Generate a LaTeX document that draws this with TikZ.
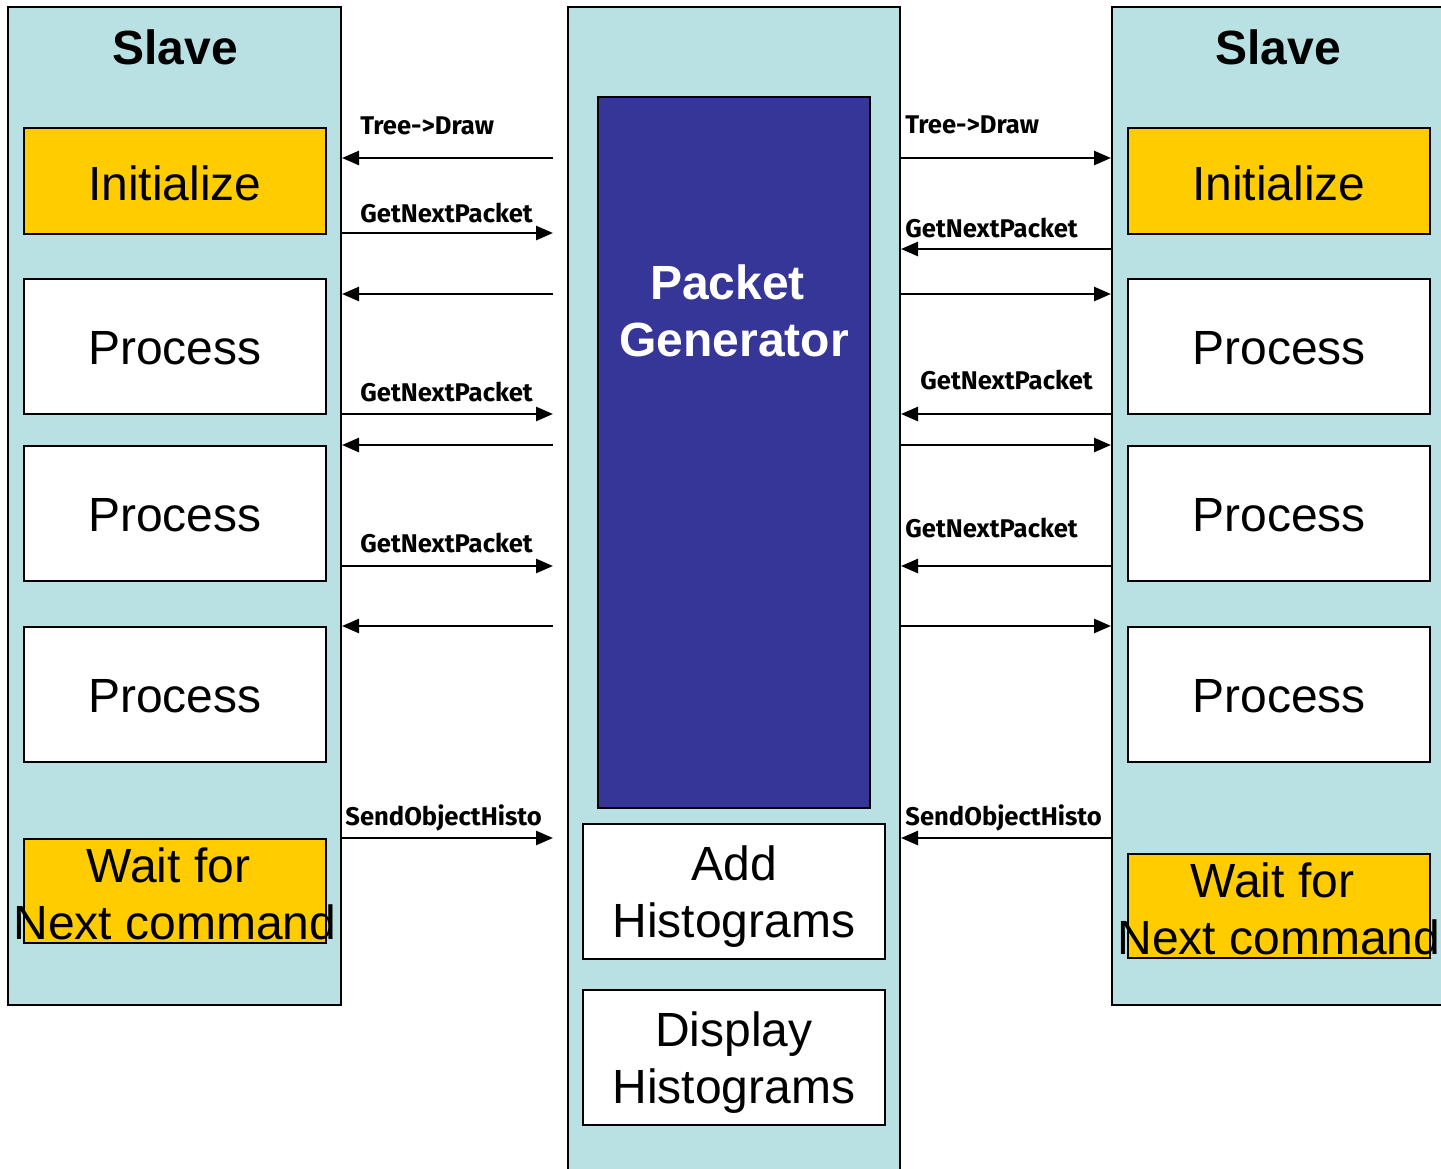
\documentclass[tikz,border=0pt]{standalone}
\usepackage{fontspec}
\setmainfont{Liberation Sans}
\newfontfamily\labfont{Fira Sans}
\usetikzlibrary{arrows.meta}
\definecolor{panelblue}{RGB}{185,224,227}
\definecolor{boxyellow}{RGB}{255,204,0}
\definecolor{pgblue}{RGB}{54,54,153}
\newcommand\trailsp{\rule{6.6pt}{0pt}}
\begin{document}
\begin{tikzpicture}[x=0.5pt,y=-0.5pt,
  panel/.style={draw=black, line width=1pt, fill=panelblue, inner sep=0pt, minimum width=166.5pt},
  stepbox/.style={draw=black, line width=0.9pt, inner sep=0pt, minimum width=151pt},
  yellowbox/.style={stepbox, fill=boxyellow},
  whitebox/.style={stepbox, fill=white},
  big/.style={font=\fontsize{24}{28.5}\selectfont, inner sep=0pt, align=center},
  bigb/.style={font=\fontsize{24}{28.5}\selectfont\bfseries, inner sep=0pt, align=center},
  lab/.style={font=\labfont\bfseries\fontsize{12.8}{15}\selectfont, inner sep=0pt, anchor=base west},
  arr/.style={line width=1.3pt, -{Triangle[length=8.5pt,width=7pt]}}]
\useasboundingbox (0,0) rectangle (1441,1168);
\clip (0,0) rectangle (1441,1168);
% panels
\node[panel, minimum height=499pt] (LP) at (174.5,506) {};
\node[panel, minimum height=586.5pt, minimum width=166pt] (CP) at (734,593.5) {};
\node[panel, minimum height=499pt] (RP) at (1278.5,506) {};
% titles
\node[bigb] (LT) at (175,47) {Slave};
\node[bigb] (RT) at (1278,47) {Slave};
% left boxes
\node[yellowbox, minimum height=53pt] (LI) at (175,181) {};
\node[big] at ([yshift=-1pt]LI.center) {Initialize};
\node[whitebox, minimum height=67.5pt] (LP1) at (175,346.5) {};
\node[big] at ([yshift=-1pt]LP1.center) {Process};
\node[whitebox, minimum height=67.5pt] (LP2) at (175,513.5) {};
\node[big] at ([yshift=-1pt]LP2.center) {Process};
\node[whitebox, minimum height=67.5pt] (LP3) at (175,694.5) {};
\node[big] at ([yshift=-1pt]LP3.center) {Process};
\node[yellowbox, minimum height=52pt] (LW) at (175,891) {};
\node[big] (LWT) at (175,894) {Wait for\trailsp\\Next command};
% right boxes
\node[yellowbox, minimum height=53pt] (RI) at (1279,181) {};
\node[big] at ([yshift=-1pt]RI.center) {Initialize};
\node[whitebox, minimum height=67.5pt] (RP1) at (1279,346.5) {};
\node[big] at ([yshift=-1pt]RP1.center) {Process};
\node[whitebox, minimum height=67.5pt] (RP2) at (1279,513.5) {};
\node[big] at ([yshift=-1pt]RP2.center) {Process};
\node[whitebox, minimum height=67.5pt] (RP3) at (1279,694.5) {};
\node[big] at ([yshift=-1pt]RP3.center) {Process};
\node[yellowbox, minimum height=52pt] (RW) at (1279,906) {};
\node[big] (RWT) at (1279,909) {Wait for\trailsp\\Next command};
% center
\node[draw=black, line width=0.9pt, fill=pgblue, inner sep=0pt, minimum width=136pt, minimum height=355.5pt] (PG) at (734,452.5) {};
\node[bigb, text=white] (PGT) at (734,311) {Packet\trailsp\\Generator};
\node[whitebox, minimum height=67.5pt] (AH) at (734,891.5) {};
\node[big] (AHT) at (734,897) {Add\\Histograms};
\node[whitebox, minimum height=67.5pt] (DH) at (734,1057.5) {};
\node[big] (DHT) at (734,1063) {Display\\Histograms};
% left gap coordinates
\coordinate (a1) at (553,158);
\coordinate (a2) at (553,233);
\coordinate (a3) at (553,294);
\coordinate (a4) at (553,414);
\coordinate (a5) at (553,445);
\coordinate (a6) at (553,566);
\coordinate (a7) at (553,626);
\coordinate (a8) at (553,838);
\draw[arr] (a1) -- (a1 -| LP.east);
\draw[arr] (a2 -| LP.east) -- (a2);
\draw[arr] (a3) -- (a3 -| LP.east);
\draw[arr] (a4 -| LP.east) -- (a4);
\draw[arr] (a5) -- (a5 -| LP.east);
\draw[arr] (a6 -| LP.east) -- (a6);
\draw[arr] (a7) -- (a7 -| LP.east);
\draw[arr] (a8 -| LP.east) -- (a8);
% right side
\coordinate (b1) at (1000,158);
\coordinate (b2) at (1000,249);
\coordinate (b3) at (1000,294);
\coordinate (b4) at (1000,414);
\coordinate (b5) at (1000,445);
\coordinate (b6) at (1000,566);
\coordinate (b7) at (1000,626);
\coordinate (b8) at (1000,838);
\draw[arr] (b1 -| CP.east) -- (b1 -| RP.west);
\draw[arr] (b2 -| RP.west) -- (b2 -| CP.east);
\draw[arr] (b3 -| CP.east) -- (b3 -| RP.west);
\draw[arr] (b4 -| RP.west) -- (b4 -| CP.east);
\draw[arr] (b5 -| CP.east) -- (b5 -| RP.west);
\draw[arr] (b6 -| RP.west) -- (b6 -| CP.east);
\draw[arr] (b7 -| CP.east) -- (b7 -| RP.west);
\draw[arr] (b8 -| RP.west) -- (b8 -| CP.east);
% labels
\node[lab] (l1) at (360,134) {Tree->Draw};
\node[lab] (l2) at (360,222) {GetNextPacket};
\node[lab] (l3) at (360,401) {GetNextPacket};
\node[lab] (l4) at (360,552) {GetNextPacket};
\node[lab] (l5) at (345,825) {SendObjectHisto};
\node[lab] (r1) at (905,133) {Tree->Draw};
\node[lab] (r2) at (905,237) {GetNextPacket};
\node[lab] (r3) at (920,389) {GetNextPacket};
\node[lab] (r4) at (905,537) {GetNextPacket};
\node[lab] (r5) at (905,825) {SendObjectHisto};
\end{tikzpicture}
\end{document}
